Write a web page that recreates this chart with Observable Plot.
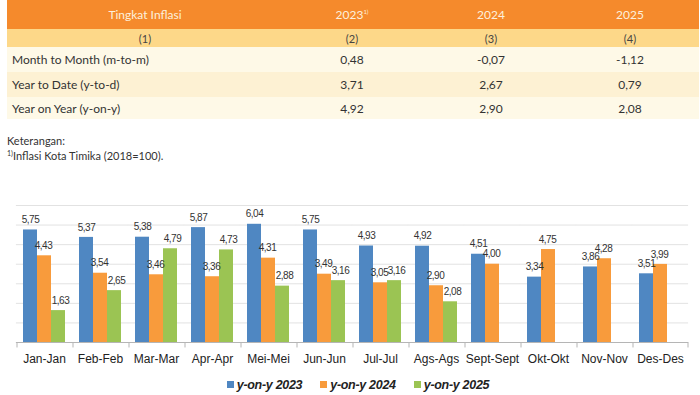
<!DOCTYPE html>
<html>
<head>
<meta charset="utf-8">
<script src="https://cdn.jsdelivr.net/npm/d3@7"></script>
<script src="https://cdn.jsdelivr.net/npm/@observablehq/plot@0.6"></script>
<style>
  html, body { margin: 0; padding: 0; background: #fff; }
  #wrap { position: relative; width: 700px; height: 395px; overflow: hidden; }
  table { position: absolute; left: 7px; top: 0; width: 692px; border-collapse: collapse;
          font-family: Lato, "Open Sans", sans-serif; font-size: 12px; color: #333; }
  td, th { padding: 0; text-align: center; font-weight: normal; }
  th { background: #F58A2C; color: #FDF0DC; height: 29px; }
  tr.sub td { background: #FDD889; height: 18px; color: #444; font-size: 11px; }
  tr.r td { height: 25px; }
  tr.r1 td, tr.r3 td { background: #FEF9E7; }
  tr.r2 td { background: #FDF1D3; }
  tr.r3 td { height: 22px; }
  td.lab { text-align: left; padding-left: 5px; }
  sup { font-size: 6px; vertical-align: 5px; }
  #note { position: absolute; left: 7px; top: 134px; font-family: Lato, "Open Sans", sans-serif;
          font-size: 11px; line-height: 13px; color: #333; }
  #chart { position: absolute; left: 0; top: 170px; }
  #chart svg [aria-label^="fx-axis"] { font-size: 12px; }
  #legend { position: absolute; left: 0; top: 378px; width: 700px; padding-left: 16px; box-sizing: border-box; text-align: center;
            font-family: "Liberation Sans Narrow", "Liberation Sans", Arial, sans-serif;
            font-size: 12.5px; font-weight: bold; font-style: italic; color: #222; letter-spacing: -0.3px; }
  .item { display: inline-block; margin: 0 9px; }
  .sw { display: inline-block; width: 7px; height: 7px; margin-right: 3px; vertical-align: 1px; }
</style>
</head>
<body>
<div id="wrap">
  <table id="tbl"></table>
  <div id="note">Keterangan:<br><sup style="font-size:7px;vertical-align:4px">1)</sup>Inflasi Kota Timika (2018=100).</div>
  <div id="chart"></div>
  <div id="legend"></div>
</div>
<script>
// ---- table data ----
const tableHeader = ["Tingkat Inflasi", "2023", "2024", "2025"];
const tableColNums = ["(1)", "(2)", "(3)", "(4)"];
const rowLabels = ["Month to Month (m-to-m)", "Year to Date (y-to-d)", "Year on Year (y-on-y)"];
const val2023 = ["0,48", "3,71", "4,92"];
const val2024 = ["-0,07", "2,67", "2,90"];
const val2025 = ["-1,12", "0,79", "2,08"];

// ---- chart data ----
const months = ["Jan-Jan", "Feb-Feb", "Mar-Mar", "Apr-Apr", "Mei-Mei", "Jun-Jun",
                "Jul-Jul", "Ags-Ags", "Sept-Sept", "Okt-Okt", "Nov-Nov", "Des-Des"];
const seriesNames = ["y-on-y 2023", "y-on-y 2024", "y-on-y 2025"];
const yoy2023 = [5.75, 5.37, 5.38, 5.87, 6.04, 5.75, 4.93, 4.92, 4.51, 3.34, 3.86, 3.51];
const yoy2024 = [4.43, 3.54, 3.46, 3.36, 4.31, 3.49, 3.05, 2.90, 4.00, 4.75, 4.28, 3.99];
const yoy2025 = [1.63, 2.65, 4.79, 4.73, 2.88, 3.16, 3.16, 2.08];
const colors = ["#4F87C2", "#F89B3C", "#9BC453"];
const gridValues = [1, 2, 3, 4, 5, 6, 7];

// ---- build table ----
const tbl = document.getElementById("tbl");
let html = "<colgroup><col style='width:276px'><col style='width:138px'><col style='width:140px'><col style='width:138px'></colgroup>";
html += "<tr>" + tableHeader.map((h, i) => `<th>${h}${i === 1 ? "<sup>1)</sup>" : ""}</th>`).join("") + "</tr>";
html += "<tr class='sub'>" + tableColNums.map(c => `<td>${c}</td>`).join("") + "</tr>";
rowLabels.forEach((lab, i) => {
  html += `<tr class='r r${i + 1}'><td class='lab'>${lab}</td><td>${val2023[i]}</td><td>${val2024[i]}</td><td>${val2025[i]}</td></tr>`;
});
tbl.innerHTML = html;

// ---- chart ----
const data = [];
[yoy2023, yoy2024, yoy2025].forEach((arr, s) => {
  arr.forEach((v, i) => data.push({month: months[i], series: seriesNames[s], value: v}));
});
const fmt = d => d.value.toFixed(2).replace(".", ",");
const bySeries = s => data.filter(d => d.series === s);
const labelShift = [0, -1, 2];

const edges = months.map(m => ({month: m, series: seriesNames[0]}));
const lastEdge = [{month: months[months.length - 1], series: seriesNames[2]}];

const chart = Plot.plot({
  width: 700,
  height: 200,
  marginTop: 35,
  marginBottom: 28,
  marginLeft: 11,
  marginRight: 6,
  style: {fontFamily: "'Liberation Sans', Arial, sans-serif", fontSize: "11px", background: "#fff", color: "#222"},
  fx: {domain: months, paddingInner: 0.21, paddingOuter: 0.105, axis: "bottom", tickSize: 0, tickPadding: 12, label: null},
  x: {domain: seriesNames, padding: 0, axis: null},
  y: {domain: [0, 7], axis: null},
  color: {domain: seriesNames, range: colors},
  marks: [
    Plot.ruleY(gridValues, {stroke: "#e2e2e2", strokeWidth: 1, insetLeft: -6.1, insetRight: -6.1}),
    Plot.barY(data, {fx: "month", x: "series", y: "value", fill: "series"}),
    Plot.ruleY([0], {stroke: "#b5b5b5", strokeWidth: 1, insetLeft: -6.1, insetRight: -6.1}),
    Plot.ruleX(edges, {fx: "month", x: "series", y1: 0, y2: -0.28, dx: -13.5, stroke: "#b5b5b5"}),
    Plot.ruleX(lastEdge, {fx: "month", x: "series", y1: 0, y2: -0.28, dx: 13.5, stroke: "#b5b5b5"}),
    ...seriesNames.map((s, i) => Plot.text(bySeries(s), {fx: "month", x: "series", y: "value", text: fmt,
                     dy: -10, dx: labelShift[i], fill: "#333", fontSize: 10}))
  ]
});
document.getElementById("chart").appendChild(chart);
d3.select(chart).selectAll('[aria-label="text"] text').style("letter-spacing", "-0.5px");

// ---- legend ----
document.getElementById("legend").innerHTML = seriesNames.map((s, i) =>
  `<span class="item"><span class="sw" style="background:${colors[i]}"></span>${s}</span>`).join("");
</script>
</body>
</html>
